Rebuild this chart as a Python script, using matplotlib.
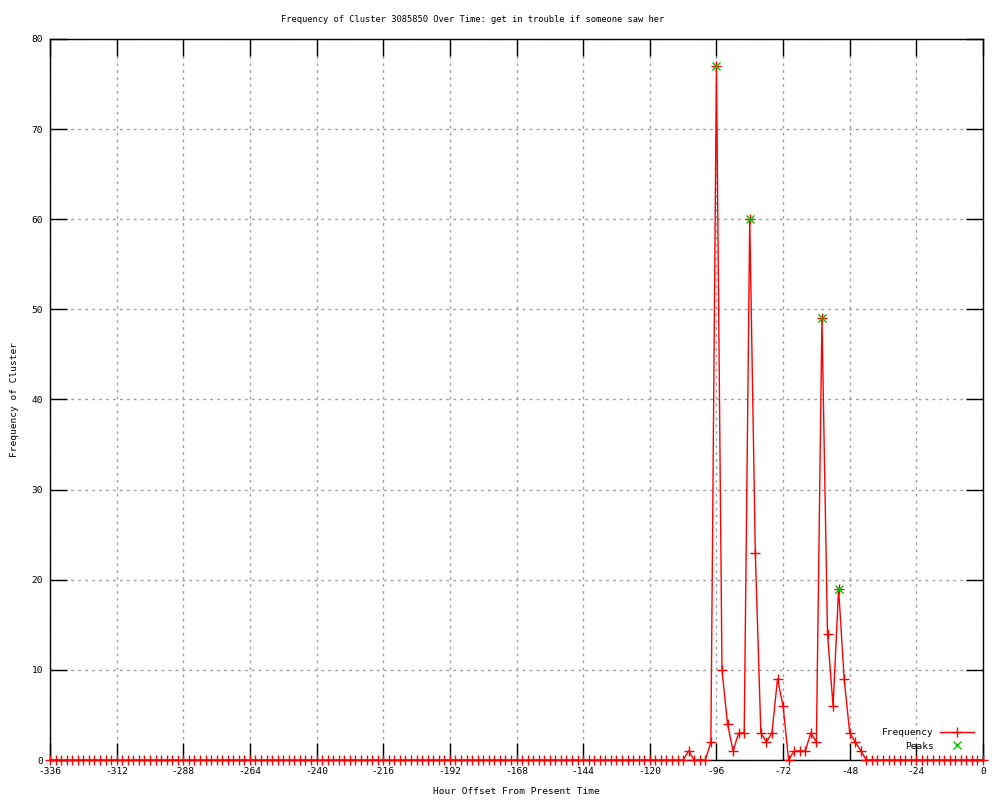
import numpy as np
import matplotlib
matplotlib.use('Agg')
import matplotlib.pyplot as plt
from matplotlib.ticker import MultipleLocator

hours = np.arange(-336, 1, 2)
frequency = [
    0, 0, 0, 0, 0, 0, 0, 0, 0, 0, 0, 0,   # -336 .. -314
    0, 0, 0, 0, 0, 0, 0, 0, 0, 0, 0, 0,   # -312 .. -290
    0, 0, 0, 0, 0, 0, 0, 0, 0, 0, 0, 0,   # -288 .. -266
    0, 0, 0, 0, 0, 0, 0, 0, 0, 0, 0, 0,   # -264 .. -242
    0, 0, 0, 0, 0, 0, 0, 0, 0, 0, 0, 0,   # -240 .. -218
    0, 0, 0, 0, 0, 0, 0, 0, 0, 0, 0, 0,   # -216 .. -194
    0, 0, 0, 0, 0, 0, 0, 0, 0, 0, 0, 0,   # -192 .. -170
    0, 0, 0, 0, 0, 0, 0, 0, 0, 0, 0, 0,   # -168 .. -146
    0, 0, 0, 0, 0, 0, 0, 0, 0, 0, 0, 0,   # -144 .. -122
    0, 0, 0, 0, 0, 0, 0, 1, 0, 0, 0, 2,   # -120 .. -98
    77, 10, 4, 1, 3, 3, 60, 23, 3, 2, 3, 9,   # -96 .. -74
    6, 0, 1, 1, 1, 3, 2, 49, 14, 6, 19, 9,    # -72 .. -50
    3, 2, 1, 0, 0, 0, 0, 0, 0, 0, 0, 0,   # -48 .. -26
    0, 0, 0, 0, 0, 0, 0, 0, 0, 0, 0, 0,   # -24 .. -2
    0,                                    # 0
]
peak_hours = [-96, -84, -58, -52]
peak_values = [77, 60, 49, 19]

title = 'Frequency of Cluster 3085850 Over Time: get in trouble if someone saw her'

plt.rcParams['font.family'] = ['DejaVu Sans Mono']
plt.rcParams['axes.unicode_minus'] = False
fs = 6.8

fig = plt.figure(figsize=(10, 8), dpi=100)
ax = fig.add_axes([0.05, 0.05, 0.933, 0.90125])

ax.plot(hours, frequency, color='red', linewidth=1, marker='+', markersize=6.5,
        markeredgewidth=1, label='Frequency', clip_on=False, zorder=3)
ax.plot(peak_hours, peak_values, linestyle='none', color='#00c000', marker='x',
        markersize=6, markeredgewidth=1, label='Peaks', clip_on=False, zorder=4)

ax.set_xlim(-336, 0)
ax.set_ylim(0, 80)
ax.xaxis.set_major_locator(MultipleLocator(24))
ax.yaxis.set_major_locator(MultipleLocator(10))
ax.tick_params(direction='in', length=12, width=1, top=True, right=True,
               labelsize=fs, pad=5)
ax.grid(True, color='#a0a0a0', linestyle=(0, (2, 3)), linewidth=1)
for s in ax.spines.values():
    s.set_linewidth(1)

ax.set_xlabel('Hour Offset From Present Time', fontsize=fs)
ax.set_ylabel('Frequency of Cluster', fontsize=fs)
ax.xaxis.set_label_coords(0.5, -0.037)
ax.yaxis.set_label_coords(-0.033, 0.5)
fig.text(0.473, 1 - 19 / 800, title, ha='center', va='center', fontsize=6.3)

leg = ax.legend(loc='lower right', frameon=False, markerfirst=False, fontsize=fs,
                handlelength=3.6, handletextpad=0.6, labelspacing=0.45,
                borderaxespad=0.6)

fig.savefig('out.png', dpi=100)
